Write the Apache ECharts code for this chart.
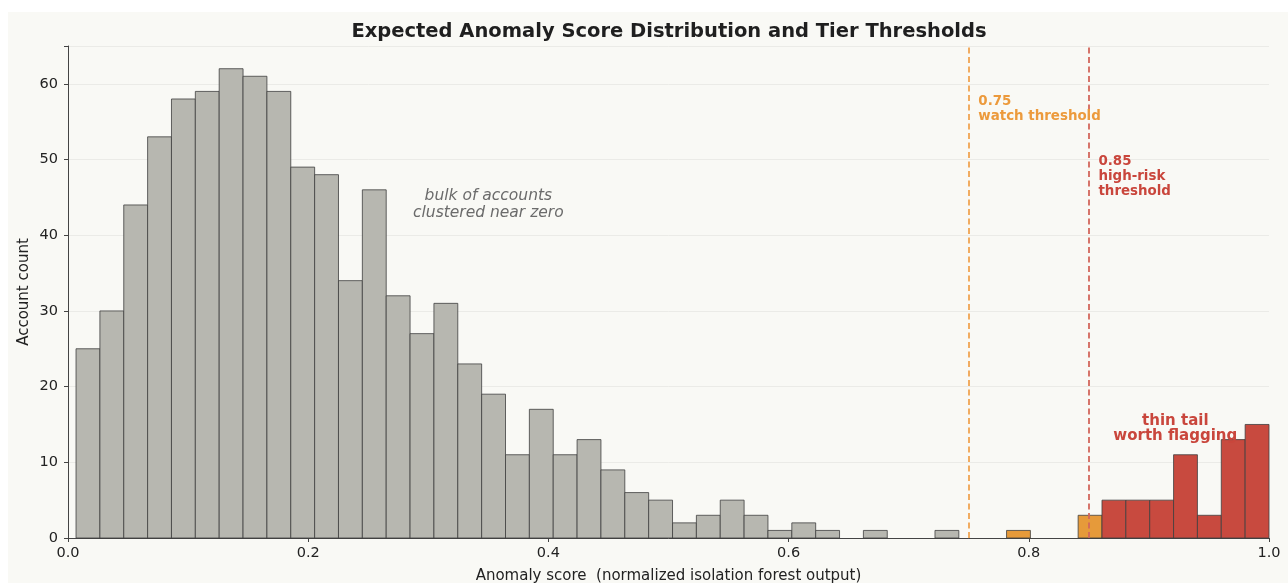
<!DOCTYPE html>
<html><head><meta charset="utf-8">
<script src="https://cdn.jsdelivr.net/npm/echarts@6/dist/echarts.min.js"></script>
<style>
html,body{margin:0;padding:0;background:#ffffff;}
#chart{position:absolute;left:8px;top:12px;width:1280px;height:571px;background:#f9f9f5;}
</style>
</head><body><div id="chart"></div>
<script>
// ---- data ----
const binStart = 0.0067;      // left edge of first histogram bin
const binWidth = 0.019866;    // width of each bin
const counts = [25,30,44,53,58,59,62,61,59,49,48,34,46,32,27,31,23,19,11,17,
                11,13,9,6,5,2,3,5,3,1,2,1,0,1,0,0,1,0,0,1,
                0,0,3,5,5,5,11,3,13,15];
const thresholds = [0.75, 0.85];
const xTicks = [0.0, 0.2, 0.4, 0.6, 0.8, 1.0];
const yTicks = [0, 10, 20, 30, 40, 50, 60];
const notes = [
  {x: 0.35,  y: 44.0,  text: 'bulk of accounts\nclustered near zero'},
  {x: 0.758, y: 56.65, text: '0.75\nwatch threshold'},
  {x: 0.858, y: 47.8,  text: '0.85\nhigh-risk\nthreshold'},
  {x: 0.922, y: 14.45, text: 'thin tail\nworth flagging'}
];

// ---- styling ----
const FONT = '"DejaVu Sans", sans-serif';
const GRAY = '#b7b7b0', ORANGE = '#e69a3a', RED = '#c84a3f';
const noteStyles = [
  {fill:'#6b6b6b', font:'italic 15.5px ' + FONT, align:'center', lineHeight:17},
  {fill:'#ec9a3c', font:'bold 13.4px ' + FONT, align:'left', lineHeight:14.8},
  {fill:'#c9463c', font:'bold 13.4px ' + FONT, align:'left', lineHeight:15},
  {fill:'#c9463c', font:'bold 15px ' + FONT, align:'center', lineHeight:15.5}
];

const histData = counts.map((c, i) => {
  const x0 = binStart + i * binWidth;
  return [x0, x0 + binWidth, c];
}).filter(d => d[2] > 0);

function tierColor(x0) {
  if (x0 >= thresholds[1]) return RED;
  if (x0 >= thresholds[0]) return ORANGE;
  return GRAY;
}

const chart = echarts.init(document.getElementById('chart'), null, {renderer: 'canvas'});
chart.setOption({
  backgroundColor: '#f9f9f5',
  animation: false,
  title: {
    text: 'Expected Anomaly Score Distribution and Tier Thresholds',
    left: 656, top: 5, textAlign: 'center',
    textStyle: {fontFamily: FONT, fontSize: 19.5, fontWeight: 'bold', color: '#1f1f1f'}
  },
  grid: {left: 60, right: 19, top: 34, bottom: 45, containLabel: false, outerBoundsMode: 'none'},
  xAxis: {
    type: 'value', min: 0, max: 1, interval: 0.2,
    name: 'Anomaly score  (normalized isolation forest output)',
    nameLocation: 'middle', nameGap: 31, nameMoveOverlap: false,
    nameTextStyle: {fontFamily: FONT, fontSize: 15, color: '#222'},
    axisLine: {show: true, onZero: false, lineStyle: {color: '#444', width: 1}},
    axisTick: {show: true, length: 4, lineStyle: {color: '#444'}},
    axisLabel: {fontFamily: FONT, fontSize: 14.5, color: '#222', margin: 8,
      formatter: v => (xTicks.indexOf(Math.round(v*10)/10) >= 0 ? v.toFixed(1) : '')},
    splitLine: {show: false}
  },
  yAxis: {
    type: 'value', min: 0, max: 65, interval: 10,
    name: 'Account count', nameLocation: 'middle', nameGap: 36, nameMoveOverlap: false,
    nameTextStyle: {fontFamily: FONT, fontSize: 15, color: '#222'},
    axisLine: {show: true, lineStyle: {color: '#444', width: 1}},
    axisTick: {show: true, length: 4, lineStyle: {color: '#444'}},
    axisLabel: {fontFamily: FONT, fontSize: 14.5, color: '#222', margin: 10,
      formatter: v => (yTicks.indexOf(v) >= 0 ? String(v) : '')},
    splitLine: {show: true, lineStyle: {color: '#ebebe7', width: 1}}
  },
  series: [
    {
      type: 'custom',
      data: histData,
      encode: {x: [0, 1], y: 2},
      clip: false,
      renderItem: function (params, api) {
        const x0 = api.value(0), x1 = api.value(1), c = api.value(2);
        const p0 = api.coord([x0, c]);
        const p1 = api.coord([x1, 0]);
        return {
          type: 'rect',
          shape: {x: p0[0], y: p0[1], width: p1[0] - p0[0], height: p1[1] - p0[1]},
          style: {fill: tierColor(x0), stroke: '#3f3f3f', lineWidth: 0.8}
        };
      },
      z: 2
    },
    {
      type: 'line',
      data: [],
      markLine: {
        silent: true, symbol: 'none', label: {show: false},
        data: [
          {xAxis: thresholds[0], lineStyle: {color: '#f0a452', width: 1.8, type: [6, 3.5]}},
          {xAxis: thresholds[1], lineStyle: {color: '#d2665c', width: 1.8, type: [6, 3.5]}}
        ]
      },
      z: 3
    },
    {
      type: 'custom',
      data: notes.map(n => [n.x, n.y]),
      encode: {x: 0, y: 1},
      clip: false,
      renderItem: function (params, api) {
        const i = params.dataIndex;
        const p = api.coord([api.value(0), api.value(1)]);
        const s = noteStyles[i];
        return {
          type: 'text',
          x: p[0], y: p[1],
          style: {text: notes[i].text, fill: s.fill, font: s.font, align: s.align,
                  verticalAlign: 'middle', lineHeight: s.lineHeight}
        };
      },
      z: 5
    }
  ]
});
</script>
</body></html>
